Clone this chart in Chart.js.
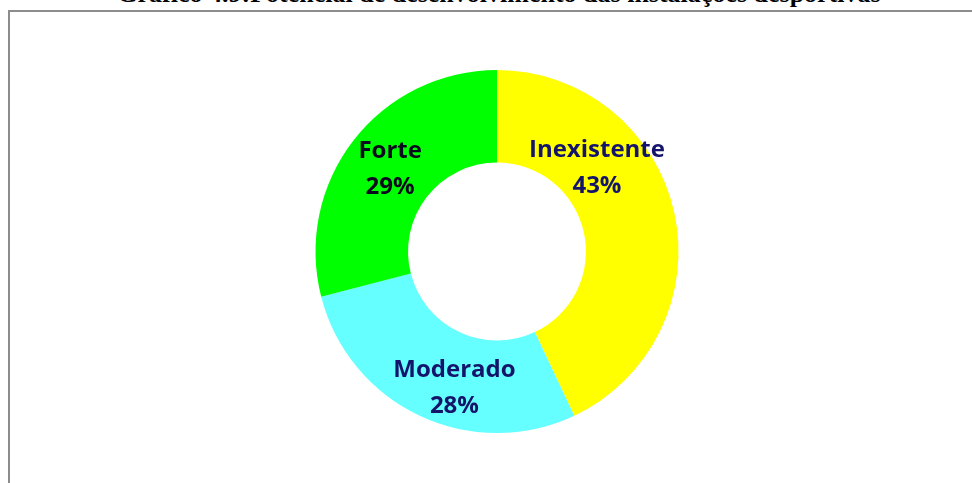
<!DOCTYPE html>
<html>
<head>
<meta charset="utf-8">
<script src="https://cdn.jsdelivr.net/npm/chart.js@4/dist/chart.umd.min.js"></script>
<style>
html,body{margin:0;padding:0;background:#fff;overflow:hidden;}
#wrap{position:relative;width:972px;height:483px;overflow:hidden;}
#title{position:absolute;left:0;width:998px;top:-21px;text-align:center;font-family:"Liberation Serif","Times New Roman",serif;font-weight:bold;font-size:26px;line-height:30px;color:#000;white-space:nowrap;}
#frame{position:absolute;left:8px;top:10px;width:980px;height:490px;border-left:2px solid #8c8c8c;border-top:2px solid #8c8c8c;}
#c{position:absolute;left:0;top:0;}
</style>
</head>
<body>
<div id="wrap">
<div id="title">Gráfico 4.9:Potencial de desenvolvimento das instalações desportivas</div>
<div id="frame"></div>
<canvas id="c" width="972" height="483"></canvas>
</div>
<script>
const categories = ["Inexistente", "Moderado", "Forte"];
const values = [43, 28, 29];
const percentLabels = ["43%", "28%", "29%"];
const sliceColors = ["#FFFF00", "#66FFFF", "#00FF00"];
const labelColors = ["#14146b", "#14146b", "#0a0a1e"];
const labelOffsets = [[-32, -54], [15, 14], [0, 1]];

const labelPlugin = {
  id: 'sliceLabels',
  afterDatasetsDraw(chart) {
    const ctx = chart.ctx;
    const meta = chart.getDatasetMeta(0);
    ctx.save();
    ctx.font = 'bold 24px "Open Sans", sans-serif';
    ctx.textAlign = 'center';
    ctx.textBaseline = 'middle';
    meta.data.forEach((arc, i) => {
      const p = arc.tooltipPosition();
      const x = p.x + labelOffsets[i][0];
      const y = p.y + labelOffsets[i][1];
      ctx.fillStyle = labelColors[i];
      ctx.fillText(categories[i], x, y - 18);
      ctx.fillText(percentLabels[i], x, y + 18);
    });
    ctx.restore();
  }
};

new Chart(document.getElementById('c'), {
  type: 'doughnut',
  data: {
    labels: categories,
    datasets: [{
      data: values,
      backgroundColor: sliceColors,
      borderWidth: 0
    }]
  },
  options: {
    responsive: false,
    animation: false,
    cutout: '49%',
    layout: { padding: { top: 70, bottom: 50, left: 22, right: 0 } },
    plugins: { legend: { display: false }, tooltip: { enabled: false }, title: { display: false } }
  },
  plugins: [labelPlugin]
});
</script>
</body>
</html>
